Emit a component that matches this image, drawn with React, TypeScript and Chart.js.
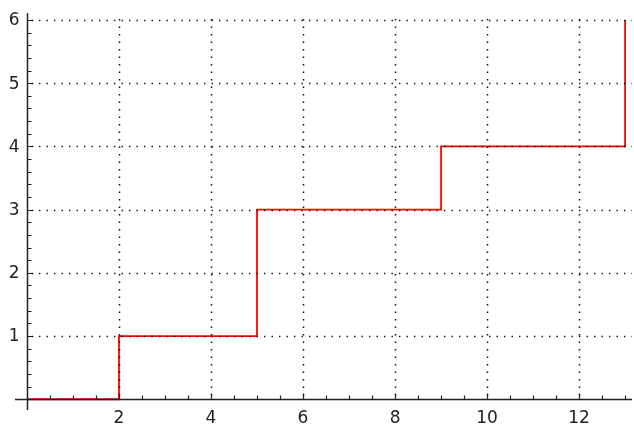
import React, { useEffect, useRef } from 'react';
import { Chart, registerables } from 'chart.js';

Chart.register(...registerables);

// Step function data (value changes at these x positions)
const stepX = [0, 2, 5, 9, 13];
const stepY = [0, 1, 3, 4, 6];

// Axis ticks
const xTicks = [2, 4, 6, 8, 10, 12];
const yTicks = [1, 2, 3, 4, 5, 6];
const xMinorStep = 0.5;
const yMinorStep = 0.2;

const xRange = [-0.26, 13.15];
const yRange = [-0.17, 6.11];

const sageAxes = {
  id: 'sageAxes',
  afterDatasetsDraw(chart: any) {
    const { ctx, chartArea: a, scales } = chart;
    const x = scales.x;
    const y = scales.y;
    const x0 = Math.round(x.getPixelForValue(0)) + 0.5;
    const y0 = Math.round(y.getPixelForValue(0)) + 0.5;
    ctx.save();

    // dotted grid
    ctx.strokeStyle = '#111';
    ctx.lineWidth = 1.5;
    ctx.setLineDash([1.4, 6.1]);
    for (const v of yTicks) {
      const py = Math.round(y.getPixelForValue(v)) + 0.5;
      ctx.beginPath();
      ctx.moveTo(x0 + 4, py);
      ctx.lineTo(a.right, py);
      ctx.stroke();
    }
    for (const v of xTicks) {
      const px = Math.round(x.getPixelForValue(v)) + 0.5;
      ctx.beginPath();
      ctx.moveTo(px, y0 - 4);
      ctx.lineTo(px, a.top);
      ctx.stroke();
    }
    ctx.setLineDash([]);

    // axis lines
    ctx.strokeStyle = '#222';
    ctx.lineWidth = 1.5;
    ctx.beginPath();
    ctx.moveTo(a.left, y0);
    ctx.lineTo(a.right, y0);
    ctx.moveTo(x0, a.top);
    ctx.lineTo(x0, a.bottom);
    ctx.stroke();

    // ticks
    ctx.lineWidth = 1.2;
    ctx.beginPath();
    for (let i = 1; i * xMinorStep <= xRange[1]; i++) {
      const v = i * xMinorStep;
      const px = Math.round(x.getPixelForValue(v)) + 0.5;
      const major = xTicks.includes(v);
      ctx.moveTo(px, y0);
      ctx.lineTo(px, y0 - (major ? 6 : 4));
    }
    for (let i = 1; i * yMinorStep <= yRange[1] + 1e-9; i++) {
      const v = Math.round(i * yMinorStep * 1000) / 1000;
      const py = Math.round(y.getPixelForValue(v)) + 0.5;
      const major = yTicks.includes(v);
      ctx.moveTo(x0, py);
      ctx.lineTo(x0 + (major ? 6 : 4), py);
    }
    ctx.stroke();

    // labels
    ctx.fillStyle = '#222';
    ctx.font = '17px "DejaVu Sans"';
    ctx.textAlign = 'right';
    ctx.textBaseline = 'middle';
    for (const v of yTicks) {
      ctx.fillText(String(v), x0 - 8, y.getPixelForValue(v) + 1);
    }
    ctx.textAlign = 'center';
    ctx.textBaseline = 'top';
    for (const v of xTicks) {
      ctx.fillText(String(v), x.getPixelForValue(v), y0 + 11);
    }
    ctx.restore();
  },
};

export default function App() {
  const ref = useRef<HTMLCanvasElement | null>(null);
  useEffect(() => {
    document.body.style.margin = '0';
    const canvas = ref.current!;
    const chart = new Chart(canvas, {
      type: 'line',
      data: {
        datasets: [
          {
            data: stepX.map((v, i) => ({ x: v, y: stepY[i] })),
            borderColor: 'rgb(255,0,0)',
            borderWidth: 1.8,
            pointRadius: 0,
            stepped: 'before',
            fill: false,
          },
        ],
      },
      options: {
        animation: false,
        responsive: false,
        devicePixelRatio: 1,
        layout: { padding: { left: 15, right: 2, top: 13, bottom: 15 } },
        plugins: { legend: { display: false }, tooltip: { enabled: false } },
        scales: {
          x: { type: 'linear', min: xRange[0], max: xRange[1], display: false },
          y: { type: 'linear', min: yRange[0], max: yRange[1], display: false },
        },
      },
      plugins: [sageAxes],
    });
    return () => chart.destroy();
  }, []);
  return <canvas ref={ref} width={634} height={425} style={{ display: 'block' }} />;
}
